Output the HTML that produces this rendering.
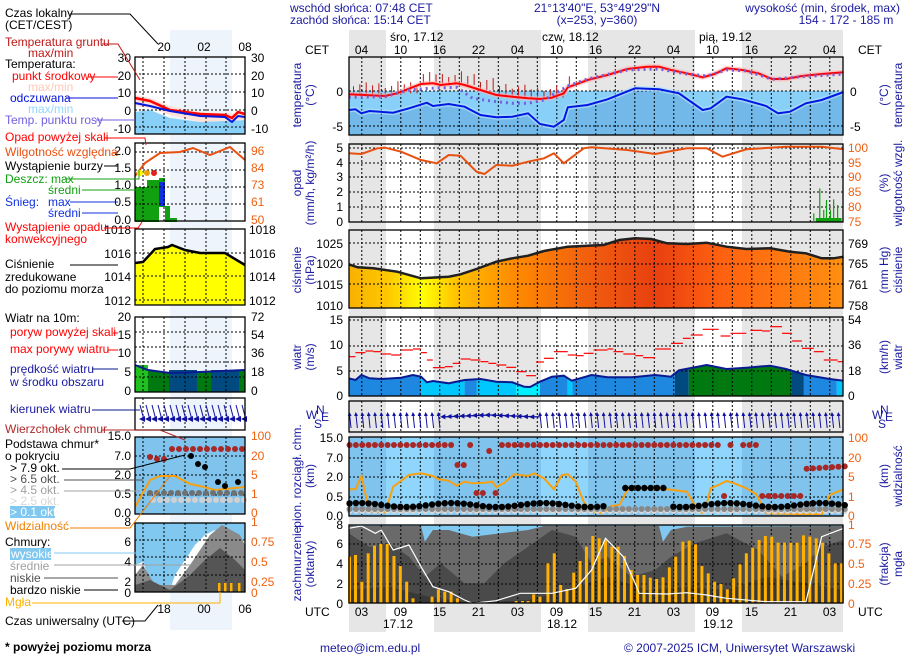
<!DOCTYPE html>
<html><head><meta charset="utf-8"><style>
html,body{margin:0;padding:0;background:#fff}
svg{display:block}
text{font-family:"Liberation Sans",sans-serif;font-size:12px}
.n{fill:#1a1aa0}.o{fill:#f06010}
</style></head><body>
<svg id="s" width="910" height="660" viewBox="0 0 910 660" xmlns="http://www.w3.org/2000/svg">
<defs id="defs">
<linearGradient id="pg" x1="0" x2="1" y1="0" y2="0">
<stop offset="0" stop-color="#f8b000"/><stop offset="0.08" stop-color="#ffc800"/><stop offset="0.15" stop-color="#ffff00"/><stop offset="0.22" stop-color="#ffc000"/><stop offset="0.33" stop-color="#ff8c00"/><stop offset="0.5" stop-color="#f05a10"/><stop offset="0.62" stop-color="#e84010"/><stop offset="0.75" stop-color="#ff6010"/><stop offset="1" stop-color="#ff9010"/>
</linearGradient>
<marker id="ah" markerWidth="4" markerHeight="4" refX="2" refY="2" orient="auto"><path d="M0,0L4,2L0,4z" fill="#1010a0"/></marker>
</defs>
<g id="bg"></g>
<g id="g"></g>
<!-- header -->
<text x="290" y="12" class="n">wschód słońca: 07:48 CET</text>
<text x="290" y="24" class="n">zachód słońca: 15:14 CET</text>
<text x="597" y="12" class="n" text-anchor="middle">21°13'40"E, 53°49'29"N</text>
<text x="597" y="24" class="n" text-anchor="middle">(x=253,  y=360)</text>
<text x="900" y="12" class="n" text-anchor="end">wysokość (min, środek, max)</text>
<text x="846" y="24" class="n" text-anchor="middle">154 - 172 - 185 m</text>
<text x="390" y="41">śro, 17.12</text><text x="542" y="41">czw, 18.12</text><text x="699" y="41">pią, 19.12</text>
<text x="305" y="54">CET</text><text x="858" y="54">CET</text>
<g id="hrs" text-anchor="middle"></g>
<text x="305" y="616">UTC</text><text x="858" y="616">UTC</text>
<text x="398" y="628" text-anchor="middle">17.12</text><text x="562" y="628" text-anchor="middle">18.12</text><text x="718" y="628" text-anchor="middle">19.12</text>
<text x="320" y="652" class="n">meteo@icm.edu.pl</text>
<text x="624" y="652" class="n">© 2007-2025 ICM, Uniwersytet Warszawski</text>
<!-- main axis labels -->
<g text-anchor="end">
<text x="343" y="96">0</text><text x="343" y="131">-5</text>
<text x="343" y="152">5</text><text x="343" y="167">4</text><text x="343" y="181">3</text><text x="343" y="196">2</text><text x="343" y="211">1</text><text x="343" y="226">0</text>
<text x="343" y="248">1025</text><text x="343" y="268">1020</text><text x="343" y="289">1015</text><text x="343" y="310">1010</text>
<text x="343" y="324">15</text><text x="343" y="349">10</text><text x="343" y="375">5</text><text x="343" y="400">0</text>
<text x="343" y="442">15.0</text><text x="343" y="462">7.0</text><text x="343" y="481">2.0</text><text x="343" y="501">0.5</text><text x="343" y="520">0.0</text>
<text x="343" y="529">8</text><text x="343" y="548">6</text><text x="343" y="568">4</text><text x="343" y="588">2</text><text x="343" y="608">0</text>
</g>
<g>
<text x="850" y="96">0</text><text x="850" y="131">-5</text>
<g class="o"><text x="848" y="152">100</text><text x="848" y="167">95</text><text x="848" y="181">90</text><text x="848" y="196">85</text><text x="848" y="211">80</text><text x="848" y="226">75</text></g>
<text x="848" y="248">769</text><text x="848" y="268">765</text><text x="848" y="289">761</text><text x="848" y="310">758</text>
<text x="848" y="324">54</text><text x="848" y="349">36</text><text x="848" y="375">18</text><text x="848" y="400">0</text>
<g class="o"><text x="848" y="442">100</text><text x="848" y="462">20</text><text x="848" y="481">5</text><text x="848" y="501">1</text><text x="848" y="520">0</text>
<text x="848" y="529">1</text><text x="848" y="548">0.75</text><text x="848" y="568">0.5</text><text x="848" y="588">0.25</text><text x="848" y="608">0</text></g>
</g>
<!-- rotated titles -->
<g class="n" text-anchor="middle">
<text transform="translate(301,95) rotate(-90)">temperatura</text><text transform="translate(314,95) rotate(-90)">(°C)</text>
<text transform="translate(888,95) rotate(-90)">(°C)</text><text transform="translate(902,95) rotate(-90)">temperatura</text>
<text transform="translate(301,183) rotate(-90)">opad</text><text transform="translate(314,183) rotate(-90)">(mm/h, kg/m²/h)</text>
<text transform="translate(888,183) rotate(-90)">(%)</text><text transform="translate(902,183) rotate(-90)">wilgotność wzgl.</text>
<text transform="translate(301,270) rotate(-90)">ciśnienie</text><text transform="translate(314,270) rotate(-90)">(hPa)</text>
<text transform="translate(888,270) rotate(-90)">(mm Hg)</text><text transform="translate(902,270) rotate(-90)">ciśnienie</text>
<text transform="translate(301,357) rotate(-90)">wiatr</text><text transform="translate(314,357) rotate(-90)">(m/s)</text>
<text transform="translate(888,357) rotate(-90)">(km/h)</text><text transform="translate(902,357) rotate(-90)">wiatr</text>
<text transform="translate(301,476) rotate(-90)">pion. rozciągł. chm.</text><text transform="translate(314,476) rotate(-90)">(km)</text>
<text transform="translate(888,476) rotate(-90)">(km)</text><text transform="translate(902,476) rotate(-90)">widzialność</text>
<text transform="translate(301,564) rotate(-90)">zachmurzenie</text><text transform="translate(314,564) rotate(-90)">(oktanty)</text>
<text transform="translate(888,564) rotate(-90)">(frakcja)</text><text transform="translate(902,564) rotate(-90)">mgła</text>
</g>
<g class="n"><text x="880" y="414" font-size="11">N</text><text x="872" y="419">W</text><text x="885" y="421" font-size="11">E</text><text x="878" y="428" font-size="11">S</text>
<text x="316" y="414" font-size="11">N</text><text x="306" y="419">W</text><text x="321" y="421" font-size="11">E</text><text x="314" y="428" font-size="11">S</text></g>
<!-- left legend -->
<g id="lg"></g>
<g>
<text x="5" y="17">Czas lokalny</text><text x="5" y="29">(CET/CEST)</text>
<text x="5" y="46" fill="#c01818">Temperatura gruntu</text><text x="28" y="57" fill="#c01818">max/min</text>
<text x="5" y="68">Temperatura:</text>
<text x="12" y="80" fill="#f00">punkt środkowy</text>
<text x="28" y="91" fill="#ffc8b8">max/min</text>
<text x="10" y="102" fill="#0010e0">odczuwana</text>
<text x="28" y="113" fill="#90d8ff">max/min</text>
<text x="5" y="124" fill="#7060e0">Temp. punktu rosy</text>
<text x="5" y="141" fill="#f00">Opad powyżej skali</text>
<text x="5" y="156" fill="#e85010">Wilgotność względna</text>
<text x="5" y="170">Wystąpienie burzy</text>
<text x="5" y="183" fill="#10a010">Deszcz: max</text><text x="48" y="194" fill="#10a010">średni</text>
<text x="5" y="206" fill="#1030e0">Śnieg:</text><text x="48" y="206" fill="#1030e0">max</text><text x="48" y="217" fill="#1030e0">średni</text>
<text x="5" y="231" fill="#f00">Wystąpienie opadu</text><text x="5" y="243" fill="#f00">konwekcyjnego</text>
<text x="5" y="268">Ciśnienie</text><text x="5" y="281">zredukowane</text><text x="5" y="293">do poziomu morza</text>
<text x="5" y="322" font-size="11">Wiatr na 10m:</text>
<text x="10" y="336" fill="#f00">poryw powyżej skali</text>
<text x="10" y="353" fill="#f00">max porywy wiatru</text>
<text x="10" y="373" fill="#1a1aa0">prędkość wiatru</text><text x="10" y="386" fill="#1a1aa0">w środku obszaru</text>
<text x="10" y="413" fill="#1a1aa0">kierunek wiatru</text>
<text x="5" y="433" fill="#b02828">Wierzchołek chmur</text>
<text x="5" y="448">Podstawa chmur*</text><text x="5" y="460">o pokryciu</text>
<text x="10" y="472">&gt; 7.9 okt.</text>
<text x="10" y="483" fill="#505050">&gt; 6.5 okt.</text>
<text x="10" y="494" fill="#a0a0a0">&gt; 4.5 okt.</text>
<text x="10" y="505" fill="#d8d8d8">&gt; 2.5 okt.</text>
<rect x="10" y="506" width="45" height="12" fill="#80c8f0"/><text x="10" y="516" fill="#fff">&gt; 0.1 okt.</text>
<text x="5" y="530" fill="#f08000">Widzialność</text>
<text x="5" y="546">Chmury:</text>
<rect x="10" y="548" width="41" height="12" fill="#80c8f0"/><text x="11" y="558" fill="#fff">wysokie</text>
<text x="10" y="570" fill="#a0a0a0">średnie</text>
<text x="10" y="582" fill="#505050">niskie</text>
<text x="10" y="594">bardzo niskie</text>
<text x="5" y="606" fill="#ffb000">Mgła</text>
<text x="5" y="625">Czas uniwersalny (UTC)</text>
<text x="5" y="651" font-size="9" font-weight="bold">* powyżej poziomu morza</text>
</g>
<g text-anchor="end" font-size="12">
<text x="131" y="62">30</text><text x="131" y="80">20</text><text x="131" y="97">10</text><text x="131" y="115">0</text><text x="131" y="133">-10</text>
<text x="131" y="155">2.0</text><text x="131" y="172">1.5</text><text x="131" y="189">1.0</text><text x="131" y="206">0.5</text><text x="131" y="224">0.0</text>
<text x="131" y="234">1018</text><text x="131" y="258">1016</text><text x="131" y="281">1014</text><text x="131" y="305">1012</text>
<text x="131" y="321">20</text><text x="131" y="339">15</text><text x="131" y="357">10</text><text x="131" y="376">5</text><text x="131" y="395">0</text>
<text x="131" y="440">15.0</text><text x="131" y="460">7.0</text><text x="131" y="479">2.0</text><text x="131" y="498">0.5</text><text x="131" y="517">0.0</text>
<text x="131" y="526">8</text><text x="131" y="546">6</text><text x="131" y="566">4</text><text x="131" y="586">2</text><text x="131" y="597">0</text>
</g>
<g>
<text x="251" y="62">30</text><text x="251" y="80">20</text><text x="251" y="97">10</text><text x="251" y="115">0</text><text x="251" y="133">-10</text>
<g class="o"><text x="251" y="155">96</text><text x="251" y="172">84</text><text x="251" y="189">73</text><text x="251" y="206">61</text><text x="251" y="224">50</text></g>
<text x="249" y="234">1018</text><text x="249" y="258">1016</text><text x="249" y="281">1014</text><text x="249" y="305">1012</text>
<text x="251" y="321">72</text><text x="251" y="339">54</text><text x="251" y="357">36</text><text x="251" y="376">18</text><text x="251" y="395">0</text>
<g class="o"><text x="251" y="440">100</text><text x="251" y="460">20</text><text x="251" y="479">5</text><text x="251" y="498">1</text><text x="251" y="517">0</text>
<text x="251" y="526">1</text><text x="251" y="546">0.75</text><text x="251" y="566">0.5</text><text x="251" y="586">0.25</text><text x="251" y="597">0</text></g>
<text x="164" y="51" text-anchor="middle">20</text><text x="204" y="51" text-anchor="middle">02</text><text x="245" y="51" text-anchor="middle">08</text>
<text x="164" y="613" text-anchor="middle">18</text><text x="204" y="613" text-anchor="middle">00</text><text x="245" y="613" text-anchor="middle">06</text>
</g>
<g id="ll" fill="none" stroke-width="1"></g>
</svg>
<script>
var NS="http://www.w3.org/2000/svg";
function el(p,t,a){var e=document.createElementNS(NS,t);for(var k in a)e.setAttribute(k,a[k]);document.getElementById(p).appendChild(e);return e;}
function X(z){return z/2.52+290;}
var L=349,R=843;
var bands=[[349,386,1],[386,434,0],[434,541,1],[541,588,0],[588,695,1],[695,742,0],[742,843,1]];
bands.forEach(function(b){ if(b[2]){el('bg','rect',{x:b[0],y:30,width:b[1]-b[0],height:602,fill:'#e6e6e6'});}});
el('bg','rect',{x:170,y:30,width:62,height:600,fill:'#eef4fc'});
function poly(p,arr,yoff,att){var s=arr.map(function(q){return X(q[0]).toFixed(1)+','+(q[1]/3+yoff).toFixed(1)}).join(' ');att.points=s;return el(p,'polyline',att);}
function area(p,arr,yoff,base,att){var s=X(arr[0][0]).toFixed(1)+','+base+' '+arr.map(function(q){return X(q[0]).toFixed(1)+','+(q[1]/3+yoff).toFixed(1)}).join(' ')+' '+X(arr[arr.length-1][0]).toFixed(1)+','+base;att.points=s;return el(p,'polygon',att);}
function grid(y0,y1,hs){for(var x=361.8-19.5;x<R;x+=19.5){if(x>L)el('g','line',{x1:x,y1:y0,x2:x,y2:y1,stroke:'#000','stroke-dasharray':'2,2','stroke-width':1});}
 hs.forEach(function(y){el('g','line',{x1:L,y1:y,x2:R,y2:y,stroke:'#000','stroke-dasharray':'2,2','stroke-width':1});});}
function frame(y0,y1){el('g','rect',{x:L,y:y0,width:R-L,height:y1-y0,fill:'none',stroke:'#000','stroke-width':1.3});}
var cet=['04','10','16','22','04','10','16','22','04','10','16','22','04'],utc=['03','09','15','21','03','09','15','21','03','09','15','21','03'];
for(var i=0;i<13;i++){var x=361.5+39*i;var t=el('hrs','text',{x:x,y:54});t.textContent=cet[i];var u=el('hrs','text',{x:x,y:616});u.textContent=utc[i];}
// TEMPERATURE
el('g','rect',{x:L,y:91,width:R-L,height:44,fill:'#88d0f8'});
var red=[[148,283],[240,288],[270,280],[330,252],[360,250],[380,255],[420,250],[440,255],[480,270],[520,285],[560,290],[600,295],[630,297],[660,293],[690,280],[700,262],[750,240],[800,225],[850,207],[900,200],[930,200],[960,210],[1000,220],[1040,232],[1070,222],[1100,205],[1140,210],[1180,220],[1215,237],[1250,237],[1290,228],[1340,222],[1395,217]];
var dew=[[148,292],[240,290],[300,270],[350,265],[420,262],[460,295],[520,305],[560,310],[600,310],[640,300],[700,258],[750,237],[850,210],[930,207],[1000,222],[1050,228],[1100,210],[1150,212],[1215,238],[1290,230],[1395,222]];
var blu=[[148,330],[165,328],[180,340],[200,333],[260,338],[300,325],[345,308],[360,318],[400,312],[440,320],[480,345],[520,352],[560,350],[600,340],[630,372],[665,380],[690,360],[700,322],[750,315],[800,298],[870,265],[930,268],[980,280],[1040,330],[1060,325],[1100,290],[1140,298],[1200,318],[1230,340],[1260,335],[1300,310],[1340,300],[1395,276]];
var bclip=blu.map(function(q){return [q[0],Math.max(q[1],273)]});
area('g',bclip,0,135,{fill:'#72b8e8'});
grid(57,135,[91,126]);
for(var z=160;z<720;z+=16){var yy=red.reduce(function(a,q){return q[0]<=z?q:a})[1]/3;el('g','line',{x1:X(z),y1:yy,x2:X(z),y2:yy-8-((z*7)%5),stroke:'#c01818','stroke-width':1});}
poly('g',red,0,{fill:'none',stroke:'#ffb0b0','stroke-width':5,opacity:0.6});
poly('g',red,0,{fill:'none',stroke:'#f00','stroke-width':2});
poly('g',dew,0,{fill:'none',stroke:'#7060e0','stroke-width':3,'stroke-dasharray':'2,4'});
poly('g',blu,0,{fill:'none',stroke:'#b0e0ff','stroke-width':5,opacity:0.7});
poly('g',blu,0,{fill:'none',stroke:'#0018e0','stroke-width':2});
frame(57,135);
// PRECIP
grid(144,222,[148,163,177,192,207]);
var hum=[[148,460],[180,462],[220,445],[240,443],[280,455],[330,480],[370,490],[400,465],[430,467],[470,515],[490,522],[520,495],[560,497],[600,485],[640,475],[665,460],[690,490],[740,445],[760,442],[850,450],[920,462],[1000,445],[1050,445],[1090,470],[1150,448],[1250,440],[1340,440],[1395,448]];
poly('g',hum,0,{fill:'none',stroke:'#e85010','stroke-width':2});
[[1320,640],[1335,565],[1345,630],[1352,600],[1362,630],[1370,598],[1380,615]].forEach(function(q){el('g','line',{x1:X(q[0]),y1:221,x2:X(q[0]),y2:q[1]/3,stroke:'#10a010','stroke-width':1.2});});
el('g','rect',{x:X(1325),y:218,width:X(1390)-X(1325),height:4,fill:'#10a010'});
frame(144,222);
// PRESSURE
var pr=[[148,118],[170,127],[210,130],[270,140],[330,160],[400,155],[430,148],[470,132],[520,110],[560,100],[600,92],[640,78],[700,65],[750,62],[790,60],[830,45],[870,40],[910,42],[950,55],[1000,57],[1050,53],[1100,65],[1150,72],[1210,70],[1260,80],[1300,85],[1340,100],[1370,100],[1395,95]];
area('g',pr,225,308,{fill:'url(#pg)'});
grid(230,308,[243,264,284]);
poly('g',pr,225,{fill:'none',stroke:'#202020','stroke-width':2.5});
frame(230,308);
// WIND
var ws=[[148,460],[165,465],[180,450],[200,460],[230,462],[280,458],[310,450],[330,455],[345,472],[360,468],[400,475],[440,465],[480,462],[520,470],[560,472],[590,485],[605,486],[630,470],[660,455],[690,452],[710,467],[760,450],[800,457],[860,457],[920,450],[960,455],[980,436],[1050,420],[1100,432],[1150,428],[1210,422],[1250,432],[1300,450],[1360,462],[1395,467]];
el('defs','clipPath',{id:'wc'});
var cp=document.getElementById('wc');
var pts=X(148)+',396 '+ws.map(function(q){return X(q[0])+','+(q[1]/3+225)}).join(' ')+' '+X(1395)+',396';
var pp=document.createElementNS(NS,'polygon');pp.setAttribute('points',pts);cp.appendChild(pp);
var wg=el('g','g',{'clip-path':'url(#wc)',id:'wg'});
[[148,330,'#1e88e0'],[330,440,'#00c8ff'],[440,470,'#1e88e0'],[470,570,'#00c8ff'],[570,630,'#00f0ff'],[630,700,'#1e88e0'],[700,712,'#00c8ff'],[712,970,'#1e88e0'],[970,1005,'#004a80'],[1005,1265,'#007a10'],[1265,1295,'#004a80'],[1295,1378,'#1e88e0'],[1378,1395,'#00c8ff']].forEach(function(b){el('wg','rect',{x:X(b[0]),y:317,width:X(b[1])-X(b[0]),height:80,fill:b[2]});});
grid(317,396,[320,346,371]);
poly('g',ws,225,{fill:'none',stroke:'#0a1a90','stroke-width':2});
var gu=[[148,395],[165,383],[190,378],[210,380],[230,387],[255,390],[280,375],[310,372],[330,383],[345,405],[360,428],[390,425],[410,415],[430,402],[455,405],[480,410],[500,415],[520,420],[545,427],[570,440],[595,452],[620,411],[640,400],[665,380],[700,390],[720,392],[740,385],[765,375],[800,372],[815,380],[840,387],[870,392],[890,398],[920,372],[960,355],[990,340],[1010,330],[1040,313],[1085,333],[1110,325],[1160,316],[1190,318],[1210,305],[1240,325],[1265,348],[1290,370],[1320,380],[1345,405],[1380,410]];
gu.forEach(function(q,i){var nx=i<gu.length-1?gu[i+1][0]:1395;var w=Math.min(nx-q[0],40);el('g','line',{x1:X(q[0]),y1:q[1]/3+225,x2:X(q[0]+w),y2:q[1]/3+225,stroke:'#f00','stroke-width':1.2});});
frame(317,396);
// WIND DIR
grid(401,432,[]);
for(var z=150;z<1395;z+=16){var x=X(z);
 if(z>375&&z<620){var y=415+(Math.abs(z-500)/125)*2;el('g','line',{x1:x+6,y1:y,x2:x-2,y2:y,stroke:'#1010a0','stroke-width':1.3,'marker-end':'url(#ah)'});}
 else{el('g','line',{x1:x+1.5,y1:428,x2:x,y2:414,stroke:'#1010a0','stroke-width':1,'marker-end':'url(#ah)'});}}
frame(401,432);
// CLOUD BASE
el('g','rect',{x:L,y:437,width:R-L,height:79,fill:'#80c4ee'});
bands.forEach(function(b){ if(!b[2])el('g','rect',{x:b[0],y:437,width:b[1]-b[0],height:79,fill:'#90d6fc'});});
grid(437,516,[458,477,497]);
var vis=[[148,298],[165,298],[180,258],[200,365],[240,367],[260,290],[300,255],[330,250],[360,258],[375,268],[400,272],[420,287],[440,275],[460,280],[490,278],[510,275],[520,292],[540,278],[565,253],[600,258],[615,250],[640,265],[665,298],[685,255],[700,253],[720,275],[740,335],[760,365],[790,370],[810,348],[830,345],[850,300],[870,295],[950,298],[1000,305],[1020,345],[1030,368],[1045,368],[1060,295],[1080,285],[1100,273],[1120,280],[1150,295],[1175,313],[1200,370],[1280,372],[1340,372],[1360,315],[1395,298]];
poly('g',vis,390,{fill:'none',stroke:'#f8a010','stroke-width':2});
for(var z=150;z<1400;z+=16){var x=X(z);
 el('g','circle',{cx:x,cy:511,r:3,fill:'#d8d8d8'});
 el('g','circle',{cx:x,cy:509,r:3,fill:'#888'});
 if(!(z>800&&z<960))el('g','circle',{cx:x,cy:505+Math.sin(z/37)*2,r:3.2,fill:'#000'});
 var ty=445;if(z>330&&z<380)ty=448+(z-330)/8; if(z>410&&z<450)ty=465; if(z>455&&z<530)ty=493; if(z>495&&z<515)ty=451; if(z>1080&&z<1110)ty=496; if(z>1110&&z<1140)ty=-1; if(z>1175&&z<1292)ty=496; if(z>1292)ty=469-(z-1292)/40;
 if(z>=160&&z<380)ty=445;
 if(ty>0)el('g','circle',{cx:x,cy:ty,r:3,fill:'#a82828'});}
for(var z=845;z<945;z+=16){el('g','circle',{cx:X(z),cy:488,r:3.2,fill:'#000'});}
frame(437,516);
// CLOUD COVER
el('g','rect',{x:L,y:525,width:R-L,height:78,fill:'#80c8f0'});
var c1=[[148,408],[330,408],[340,455],[360,420],[400,420],[460,440],[600,420],[640,408],[930,408],[940,455],[960,420],[1000,410],[1395,408]];
area('g',c1,390,603,{fill:'#6a6a6a'});
var c2=[[148,430],[200,470],[250,460],[300,500],[340,560],[380,520],[440,580],[490,580],[540,520],[600,470],[660,420],[720,440],[760,520],[800,500],[860,560],[920,540],[960,500],[1020,460],[1100,430],[1180,480],[1240,560],[1300,520],[1340,470],[1395,450]];
area('g',c2,390,603,{fill:'#4a4a4a'});
var c3=[[148,600],[250,590],[350,620],[460,640],[600,630],[700,600],[800,560],[900,600],[1000,590],[1100,600],[1200,560],[1300,580],[1395,600]];
area('g',c3,390,603,{fill:'#383838'});
grid(525,603,[544,564,584]);
var bars=[[150,500],[165,495],[181,575],[197,490],[213,467],[229,462],[245,462],[262,498],[278,528],[294,575],[310,625],[358,620],[374,598],[390,605],[406,605],[422,625],[570,633],[586,633],[600,633],[614,613],[630,620],[650,520],[666,490],[682,585],[698,597],[715,548],[731,513],[747,470],[763,438],[779,445],[795,450],[811,470],[827,470],[843,498],[860,540],[876,555],[892,555],[908,563],[924,567],[940,562],[956,532],[972,500],[990,455],[1006,452],[1022,463],[1038,528],[1054,550],[1070,575],[1086,582],[1102,598],[1118,565],[1134,523],[1150,490],[1166,473],[1182,450],[1198,438],[1214,440],[1230,458],[1246,458],[1262,458],[1278,458],[1294,436],[1310,440],[1326,445],[1342,458],[1358,490],[1374,520],[1390,520]];
bars.forEach(function(b){el('g','rect',{x:X(b[0])-1.5,y:b[1]/3+390,width:3,height:603-(b[1]/3+390),fill:'#ffb000'});});
var wl=[[148,415],[180,408],[215,430],[230,420],[260,480],[300,465],[330,530],[360,590],[400,605],[440,630],[460,640],[520,632],[580,610],[660,610],[720,595],[760,540],[795,445],[840,500],[870,580],[880,610],[950,612],[1000,608],[1050,615],[1100,625],[1200,635],[1300,635],[1340,440],[1395,415]];
poly('g',wl,390,{fill:'none',stroke:'#fff','stroke-width':1.2});
frame(525,603);
// LEFT MINI PANELS
function mf(y0,y1){el('lg','rect',{x:135,y:y0,width:110,height:y1-y0,fill:'none',stroke:'#000','stroke-width':1.3});}
function mg(y0,y1,hs){[143,164,185,206,226].forEach(function(x){el('lg','line',{x1:x,y1:y0,x2:x,y2:y1,stroke:'#000','stroke-dasharray':'2,2'});});hs.forEach(function(y){el('lg','line',{x1:135,y1:y,x2:245,y2:y,stroke:'#000','stroke-dasharray':'2,2'});});}
function mp(p,att){var t=att.t||'polygon';delete att.t;att.points=p;return el('lg',t,att);}
mp('135,112 150,110 170,118 200,122 245,120 245,134 135,134',{fill:'#88d0f8'});
mp('135,95 150,98 170,106 200,112 245,114 245,120 200,122 170,115 150,108 135,106',{fill:'#ffe0d8'});
mg(57,134,[74,92,110,127]);
mp('135,98 150,101 170,110 200,114 225,115 232,118 238,112 245,114',{t:'polyline',fill:'none',stroke:'#f00','stroke-width':2.5});
mp('135,103 150,106 170,111 200,116 225,117 232,122 238,116 245,117',{t:'polyline',fill:'none',stroke:'#0018e0','stroke-width':2});
mf(57,134);
mp('135,187 147,187 147,180 159,180 159,178 165,178 165,207 159,207 159,222 135,222',{fill:'#10a010'});
mp('159,182 165,182 165,206 159,206',{fill:'#1030e0'});
mp('165,206 170,206 170,218 177,218 177,222 165,222',{fill:'#10a010'});
mg(143,221,[152,170,187,204]);
mp('135,176 145,163 160,153 180,152 193,148 210,155 230,147 245,160',{t:'polyline',fill:'none',stroke:'#e85010','stroke-width':2});
el('lg','circle',{cx:140,cy:173,r:3,fill:'#ff0'});el('lg','circle',{cx:147,cy:173,r:3,fill:'#f0a000'});el('lg','circle',{cx:154,cy:173,r:3,fill:'#e02020'});
mf(143,221);
mp('135,263 143,262 155,249 168,247 172,245 185,250 200,253 225,253 245,265 245,305 135,305',{fill:'#ff0'});
mg(229,305,[253,276,300]);
mp('135,263 143,262 155,249 168,247 172,245 185,250 200,253 225,253 245,265',{t:'polyline',fill:'none',stroke:'#000','stroke-width':2.5});
mf(229,305);
mp('135,365 148,370 170,373 200,372 245,370 245,392 135,392',{fill:'#007a10'});
el('lg','rect',{x:135,y:365,width:13,height:27,fill:'#20c020'});el('lg','rect',{x:169,y:370,width:28,height:22,fill:'#004a80'});el('lg','rect',{x:211,y:370,width:28,height:22,fill:'#004a80'});
mg(317,392,[332,347,362,377]);
mp('135,365 148,370 170,373 200,372 245,370',{t:'polyline',fill:'none',stroke:'#0a1a90','stroke-width':2});
mf(317,392);
mg(398,430,[]);
for(var x=140;x<245;x+=6){el('lg','line',{x1:x,y1:405,x2:x+4,y2:420,stroke:'#1010a0','stroke-width':1});el('lg','path',{d:'M'+(x-1)+','+419+'l6,-3l0,6z',fill:'#1010a0'});}
mf(398,430);
el('lg','rect',{x:135,y:437,width:110,height:77,fill:'#80c4ee'});
mg(437,514,[456,475,495]);
mp('135,507 150,480 160,476 175,476 190,484 200,486 215,490 245,487',{t:'polyline',fill:'none',stroke:'#f8a010','stroke-width':2});
for(var x=172;x<245;x+=7){el('lg','circle',{cx:x,cy:449,r:3,fill:'#a82828'});}
[[150,457],[157,459],[164,459]].forEach(function(c){el('lg','circle',{cx:c[0],cy:c[1],r:3,fill:'#a82828'});});
[[191,456],[198,464],[205,467],[218,482],[225,486],[238,482]].forEach(function(c){el('lg','circle',{cx:c[0],cy:c[1],r:3,fill:'#000'});});
for(var x=150;x<245;x+=7){el('lg','circle',{cx:x,cy:493,r:3,fill:'#707070'});el('lg','circle',{cx:x+3,cy:500,r:3,fill:'#d0d0d0'});}
mf(437,514);
el('lg','rect',{x:135,y:523,width:110,height:69,fill:'#80c8f0'});
mp('135,565 143,562 150,580 170,590 175,575 185,560 195,545 205,535 215,530 225,545 245,540 245,592 135,592',{fill:'#fff'});
mp('135,575 143,565 155,585 175,585 190,565 200,550 210,535 222,525 240,535 245,545 245,592 135,592',{fill:'#8a8a8a'});
mp('135,585 150,580 170,590 190,575 205,560 220,548 235,560 245,570 245,592 135,592',{fill:'#555'});
mg(523,592,[540,557,575]);
[218,224,230,238].forEach(function(x){el('lg','rect',{x:x,y:583,width:2.5,height:9,fill:'#ffb000'});});
mf(523,592);
var LL=[['#000','70,14 130,14 158,44'],['#c01818','102,44 118,44 140,80'],['#f00','88,77 118,77'],['#0010e0','66,98 118,98'],['#7060e0','96,120 135,120'],['#f00','104,138 145,138 146,145'],['#e85010','113,153 118,153'],['#000','104,166 118,166'],['#10a010','65,179 139,179 139,170'],['#10a010','82,190 147,190'],['#1030e0','70,202 118,202'],['#1030e0','82,213 118,213'],['#f00','104,228 138,228 142,222'],['#000','70,265 118,265'],['#f00','113,333 118,333'],['#f00','108,350 118,350'],['#0a1a90','92,369 118,369'],['#0a1a90','92,410 140,410'],['#b02828','102,430 160,430 185,440'],['#000','62,469 130,469 185,455'],['#505050','64,480 143,480'],['#a0a0a0','64,491 140,491'],['#f08000','70,528 130,528 170,476'],['#80c8f0','54,553 190,553'],['#a0a0a0','54,565 190,565'],['#505050','44,578 118,578'],['#000','84,590 118,590'],['#ffb000','32,603 220,603 220,592'],['#000','122,621 145,621 158,605']];
LL.forEach(function(l){el('ll','polyline',{points:l[1],stroke:l[0],fill:'none'});});
</script>
</body></html>
